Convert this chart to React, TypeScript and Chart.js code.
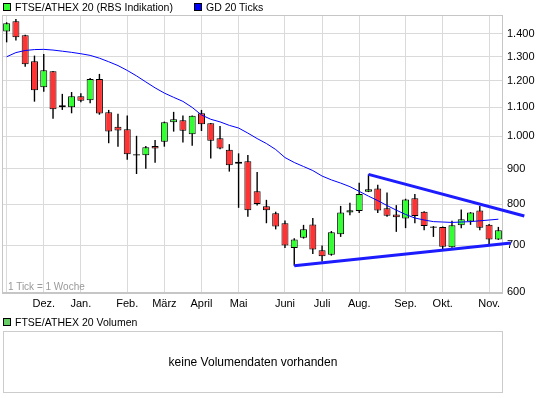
import React, { useEffect, useRef } from 'react';
import { Chart, registerables } from 'chart.js';

Chart.register(...registerables);

const FONT = '"Liberation Sans", Arial, Helvetica, sans-serif';

// 54 weekly candles
const weeks: string[] = [
  'W01','W02','W03','W04','W05','W06','W07','W08','W09','W10',
  'W11','W12','W13','W14','W15','W16','W17','W18','W19','W20',
  'W21','W22','W23','W24','W25','W26','W27','W28','W29','W30',
  'W31','W32','W33','W34','W35','W36','W37','W38','W39','W40',
  'W41','W42','W43','W44','W45','W46','W47','W48','W49','W50',
  'W51','W52','W53','W54',
];
const monthIdx = [0, 4, 8, 13, 17, 21, 25, 30, 34, 38, 43, 47, 52];
const monthNames = ['', 'Dez.', 'Jan.', 'Feb.', 'März', 'April', 'Mai', 'Juni', 'Juli', 'Aug.', 'Sep.', 'Okt.', 'Nov.'];

const openV = [1411,1460,1394,1280,1175,1239,1108,1101,1141,1126,1208,1083,1032,1024,943,940,969,983,1048,1055,1007,1079,1044,994,957,920,922,835,795,777,752,693,717,749,688,678,725,779,783,834,843,790,774,764,816,781,744,743,695,747,756,784,748,713];
const highV = [1455,1471,1396,1304,1311,1240,1150,1157,1152,1212,1228,1091,1077,1071,1002,969,988,1050,1084,1071,1071,1091,1045,1035,975,946,941,890,812,781,759,716,748,765,699,733,796,804,859,883,853,832,798,815,828,782,745,744,758,787,780,796,750,743];
const lowV = [1362,1370,1257,1121,1158,1060,1091,1079,1119,1115,1074,978,967,926,884,899,917,967,1016,980,970,1018,930,959,891,791,768,797,752,737,693,654,715,680,663,676,719,772,778,833,778,768,731,740,752,735,719,690,694,740,748,735,702,712];
const closeV = [1450,1385,1267,1164,1243,1093,1101,1141,1124,1208,1078,1016,1020,943,939,965,961,1048,1058,1019,1070,1041,986,961,910,914,785,801,785,744,699,713,737,690,675,730,779,785,828,841,784,771,767,813,770,745,741,696,747,762,779,741,713,735];
const gd20 = [1299,1317,1326,1330,1331,1328,1323,1318,1312,1305,1293,1278,1262,1242,1220,1196,1173,1153,1137,1122,1100,1073,1058,1049,1037,1028,1011,993,977,958,933,918,906,894,878,867,858,848,835,822,810,797,785,774,765,760,756,755,754,755,756,758,760,762];

const yTicks = [600, 700, 800, 900, 1000, 1100, 1200, 1300, 1400];
const yMin = 600;
const yMax = 1490;

const upperTrend = [{ x: 39, y: 883 }, { x: 55.8, y: 770 }];
const lowerTrend = [{ x: 31, y: 654 }, { x: 54.35, y: 705 }];

const UP = '#33ff33';
const DOWN = '#ff3333';
const GRID = '#dadada';
const FRAME = '#c6c6c6';

const fmt = (v: number) =>
  v >= 1000 ? `${Math.floor(v / 1000)}.${String(v % 1000).padStart(3, '0')}` : String(v);

const labelAt = (i: number) => {
  const k = monthIdx.indexOf(i);
  return k >= 0 ? monthNames[k] : '';
};

const framePlugin = {
  id: 'frame',
  beforeDatasetsDraw(chart: any) {
    const { ctx, chartArea: a } = chart;
    ctx.save();
    ctx.strokeStyle = FRAME;
    ctx.lineWidth = 1;
    ctx.strokeRect(a.left + 0.5, a.top + 0.5, a.right - a.left - 1, a.bottom - a.top);
    ctx.lineWidth = 2;
    ctx.beginPath();
    ctx.moveTo(a.left, a.bottom + 1);
    ctx.lineTo(a.right, a.bottom + 1);
    ctx.stroke();
    ctx.restore();
  },
};

export default function App() {
  const ref = useRef<HTMLCanvasElement>(null);

  useEffect(() => {
    if (!ref.current) return;
    const n = weeks.length;
    const chart = new Chart(ref.current, {
      type: 'bar',
      data: {
        labels: weeks,
        datasets: [
          {
            type: 'line',
            xAxisID: 'x2',
            yAxisID: 'y',
            data: upperTrend,
            borderColor: '#1c1cff',
            borderWidth: 3,
            pointRadius: 0,
            fill: false,
            clip: false as any,
            order: -2,
          } as any,
          {
            type: 'line',
            xAxisID: 'x2',
            yAxisID: 'y',
            data: lowerTrend,
            borderColor: '#1c1cff',
            borderWidth: 3,
            pointRadius: 0,
            fill: false,
            clip: false as any,
            order: -2,
          } as any,
          {
            type: 'line',
            xAxisID: 'x2',
            yAxisID: 'y',
            data: gd20.map((v, i) => ({ x: i, y: v })),
            borderColor: '#0000ff',
            borderWidth: 1,
            pointRadius: 0,
            fill: false,
            tension: 0,
            order: -1,
          } as any,
          {
            type: 'bar',
            xAxisID: 'x',
            yAxisID: 'y',
            data: openV.map((o, i) => [o, closeV[i]]),
            backgroundColor: openV.map((o, i) => (closeV[i] >= o ? UP : DOWN)),
            borderColor: '#000000',
            borderWidth: 1,
            borderSkipped: false,
            barThickness: 7,
            grouped: false,
            inflateAmount: 0,
            order: 1,
          } as any,
          {
            type: 'bar',
            xAxisID: 'x',
            yAxisID: 'y',
            data: lowV.map((l, i) => [l, highV[i]]),
            backgroundColor: '#000000',
            borderWidth: 0,
            barThickness: 1.4,
            grouped: false,
            inflateAmount: 0,
            order: 2,
          } as any,
        ],
      },
      options: {
        responsive: false,
        animation: false,
        devicePixelRatio: 1,
        events: [],
        layout: { padding: { left: 2, top: 15, right: 0, bottom: 0 } },
        plugins: {
          legend: { display: false },
          tooltip: { enabled: false },
        },
        scales: {
          x: {
            type: 'category',
            offset: true,
            grid: {
              offset: false,
              drawTicks: false,
              lineWidth: 1,
              color: (c: any) => (monthIdx.includes(c.index) ? GRID : 'rgba(0,0,0,0)'),
            },
            border: { display: false },
            ticks: {
              autoSkip: false,
              maxRotation: 0,
              minRotation: 0,
              padding: 5,
              color: '#000',
              font: { family: FONT, size: 11 },
              callback: (_v: any, i: number) => labelAt(i),
            },
            afterFit: (s: any) => {
              s.height = 106;
            },
          },
          x2: {
            type: 'linear',
            display: false,
            offset: false,
            bounds: 'data',
            grid: { offset: false },
            min: -0.5,
            max: n - 0.5,
          },
          y: {
            type: 'logarithmic',
            position: 'right',
            min: yMin,
            max: yMax,
            grid: { color: GRID, drawTicks: false, lineWidth: 1 },
            border: { display: false },
            ticks: {
              padding: 4,
              color: '#000',
              font: { family: FONT, size: 11 },
              callback: (v: any) => fmt(Number(v)),
            },
            afterBuildTicks: (s: any) => {
              s.ticks = yTicks.map((v) => ({ value: v }));
            },
            afterFit: (s: any) => {
              s.width = 42;
            },
          },
        },
      } as any,
      plugins: [framePlugin],
    });
    return () => chart.destroy();
  }, []);

  const txt: React.CSSProperties = {
    position: 'absolute',
    fontSize: 10.5,
    lineHeight: '14px',
    whiteSpace: 'nowrap',
    color: '#000',
  };
  const sq = (bg: string): React.CSSProperties => ({
    position: 'absolute',
    width: 8,
    height: 8,
    boxSizing: 'border-box',
    border: '1px solid #000',
    background: bg,
  });

  return (
    <div style={{ position: 'absolute', left: 0, top: 0, width: 545, height: 398, fontFamily: FONT, background: '#fff' }}>
      <canvas ref={ref} width={545} height={398} style={{ position: 'absolute', left: 0, top: 0, width: 545, height: 398 }} />
      <div style={{ ...sq(UP), left: 3, top: 3 }} />
      <div style={{ ...txt, left: 15, top: 0 }}>FTSE/ATHEX 20 (RBS Indikation)</div>
      <div style={{ ...sq('#0000ff'), left: 194, top: 3 }} />
      <div style={{ ...txt, left: 206, top: 0 }}>GD 20 Ticks</div>
      <div style={{ ...txt, left: 8, top: 280, fontSize: 10, color: '#9a9a9a' }}>1 Tick = 1 Woche</div>
      <div style={{ ...sq('#66cc66'), left: 3, top: 318 }} />
      <div style={{ ...txt, left: 15, top: 315 }}>FTSE/ATHEX 20 Volumen</div>
      <div
        style={{
          position: 'absolute',
          left: 3,
          top: 331,
          width: 500,
          height: 62,
          boxSizing: 'border-box',
          border: '1px solid #cccccc',
          display: 'flex',
          alignItems: 'center',
          justifyContent: 'center',
          fontSize: 12,
          color: '#000',
        }}
      >
        keine Volumendaten vorhanden
      </div>
    </div>
  );
}
